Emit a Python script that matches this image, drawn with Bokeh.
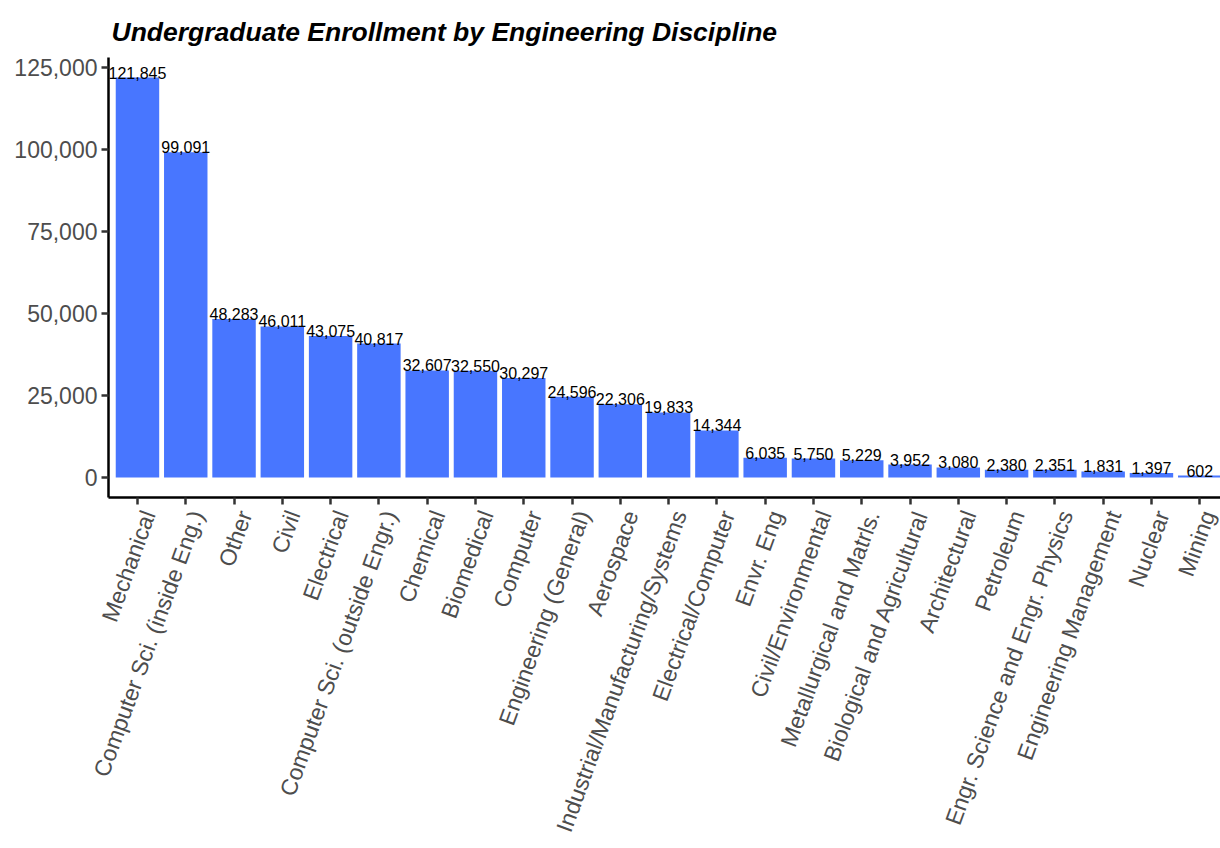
from bokeh.plotting import figure
from bokeh.models import Range1d, FixedTicker, NumeralTickFormatter, ColumnDataSource, LinearAxis
from bokeh.core.properties import value
from bokeh.embed import file_html
from bokeh.resources import INLINE
import math

categories = ["Mechanical", "Computer Sci. (inside Eng.)", "Other", "Civil", "Electrical",
              "Computer Sci. (outside Engr.)", "Chemical", "Biomedical", "Computer",
              "Engineering (General)", "Aerospace", "Industrial/Manufacturing/Systems",
              "Electrical/Computer", "Envr. Eng", "Civil/Environmental",
              "Metallurgical and Matrls.", "Biological and Agricultural", "Architectural",
              "Petroleum", "Engr. Science and Engr. Physics", "Engineering Management",
              "Nuclear", "Mining"]
enrollment = [121845, 99091, 48283, 46011, 43075, 40817, 32607, 32550, 30297, 24596,
              22306, 19833, 14344, 6035, 5750, 5229, 3952, 3080, 2380, 2351, 1831, 1397, 602]
y_ticks = [0, 25000, 50000, 75000, 100000, 125000]

xpos = list(range(1, len(categories) + 1))
labels = [f"{v:,}" for v in enrollment]
src = ColumnDataSource(dict(x=xpos, y=enrollment, lab=labels))

ymax = max(enrollment)
pad = ymax * 0.05
x0, x1 = 0.4, 23.43
shift = 0.228  # label anchor nudge (in category units) to mimic hjust=1/vjust=1

p = figure(width=1220, height=848, output_backend="svg", toolbar_location=None,
           x_range=Range1d(x0, x1), y_range=Range1d(-pad, ymax + pad),
           min_border_left=108, min_border_right=0, min_border_top=57, min_border_bottom=351,
           title="Undergraduate Enrollment by Engineering Discipline")
p.outline_line_color = None
p.grid.visible = False
p.background_fill_color = "white"
p.extra_x_ranges = {"lab": Range1d(x0 - shift, x1 - shift)}

p.vbar(x="x", top="y", bottom=0, width=0.9, source=src, fill_color="#4876FF", line_color=None)
p.text(x="x", y="y", text="lab", source=src, text_align="center", text_baseline="alphabetic",
       y_offset=-5, text_font=value("Liberation Sans"), text_font_size="16px", text_color="black")

p.title.text_font = "Liberation Sans"
p.title.text_font_style = "bold italic"
p.title.text_font_size = "26.5px"
p.title.text_color = "black"
p.title.align = "left"
p.title.offset = 3
p.title.standoff = 22

for ax in (p.xaxis[0], p.yaxis[0]):
    ax.axis_line_color = "black"
    ax.axis_line_width = 2.5
    ax.major_tick_line_color = "#333333"
    ax.major_tick_line_width = 2.5
    ax.major_tick_out = 7
    ax.major_tick_in = 0
    ax.minor_tick_line_color = None
    ax.major_label_text_font = "Liberation Sans"
    ax.major_label_text_font_size = "23px"
    ax.major_label_text_color = "#4D4D4D"

p.yaxis[0].ticker = FixedTicker(ticks=y_ticks)
p.yaxis[0].formatter = NumeralTickFormatter(format="0,0")
p.yaxis[0].major_label_standoff = 4

# main x axis: line and tick marks only (drawn as minor ticks so that no labels are produced)
xa = p.xaxis[0]
xa.ticker = FixedTicker(ticks=[], minor_ticks=xpos)
xa.minor_tick_line_color = "#333333"
xa.minor_tick_line_width = 2.5
xa.minor_tick_out = 7
xa.minor_tick_in = 0
xa.major_label_standoff = 0

lab_axis = LinearAxis(x_range_name="lab", ticker=FixedTicker(ticks=xpos),
                      major_label_overrides={x: c for x, c in zip(xpos, categories)},
                      major_label_orientation=math.radians(70),
                      axis_line_color=None, major_tick_line_color=None,
                      minor_tick_line_color=None, major_tick_out=0, major_tick_in=0,
                      minor_tick_out=0, minor_tick_in=0,
                      major_label_standoff=7, major_label_text_font="Liberation Sans",
                      major_label_text_font_size="23px", major_label_text_color="#4D4D4D")
p.add_layout(lab_axis, "below")

open("out.html", "w").write(file_html(p, INLINE))
